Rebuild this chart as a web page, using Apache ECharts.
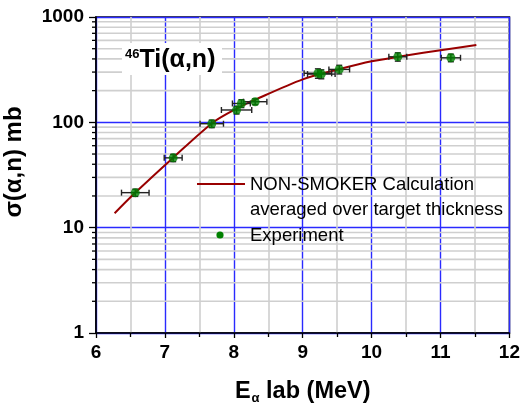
<!DOCTYPE html>
<html><head><meta charset="utf-8">
<script src="https://cdn.jsdelivr.net/npm/echarts@6/dist/echarts.min.js"></script>
<style>html,body{margin:0;padding:0;background:#fff;overflow:hidden}#c{width:523px;height:410px}</style>
</head><body><div id="c"></div>
<script>
// Experimental data
var expE      = [6.57, 7.12, 7.68, 8.04, 8.11, 8.31, 9.22, 9.27, 9.53, 10.38, 11.15];
var expSigma  = [21.5, 46, 97, 131, 151, 157, 292, 287, 318, 419, 410];
var expEErr   = [0.20, 0.13, 0.17, 0.22, 0.13, 0.17, 0.20, 0.20, 0.15, 0.13, 0.14];
var expSigErr = [1.7, 3.7, 8, 11, 13, 10, 30, 28, 30, 38, 34];
// NON-SMOKER calculation
var calcE     = [6.27, 6.56, 7.12, 7.69, 8.03, 8.32, 9.0, 9.5, 10.0, 10.5, 11.0, 11.52];
var calcSigma = [13.7, 21.2, 46.2, 98.7, 133.7, 165, 256, 316, 380, 431, 483, 543];
// axis ticks
var xTicks = [6, 7, 8, 9, 10, 11, 12];
var yTicks = [1, 10, 100, 1000];
var yMinor = [];
[1, 10, 100].forEach(function (d) { for (var k = 2; k <= 9; k++) yMinor.push(k * d); });

var chart = echarts.init(document.getElementById('c'));
var FONT = 'Liberation Sans, Arial, sans-serif';
var calcData = calcE.map(function (e, i) { return [e, calcSigma[i]]; });
var expData = expE.map(function (e, i) { return [e, expSigma[i]]; });
var errData = expE.map(function (e, i) { return [e, expSigma[i], expEErr[i], expSigErr[i]]; });

chart.setOption({
  animation: false,
  backgroundColor: '#fff',
  grid: { left: 96, top: 17, right: 12, bottom: 74, show: true, borderColor: '#000', borderWidth: 1.6, backgroundColor: 'transparent' },
  xAxis: {
    type: 'value', min: xTicks[0], max: xTicks[xTicks.length - 1], interval: 1,
    axisLine: { lineStyle: { color: '#000', width: 1.6 } },
    axisTick: { show: true, length: 5, lineStyle: { color: '#000', width: 1.3 } },
    minorTick: { show: true, splitNumber: 2, length: 4, lineStyle: { color: '#000', width: 1.3 } },
    splitLine: { show: true, lineStyle: { color: '#2a2aff', width: 1.4 } },
    minorSplitLine: { show: true, lineStyle: { color: '#cfcfcf', width: 1.6 } },
    axisLabel: { fontFamily: FONT, fontWeight: 'bold', fontSize: 19, color: '#000', margin: 10 },
    name: '{e|E}{s|α}{l| lab (MeV)}', nameLocation: 'middle', nameGap: 46,
    nameTextStyle: { rich: {
      e: { fontFamily: FONT, fontWeight: 'bold', fontSize: 23.5, color: '#000', lineHeight: 26 },
      s: { fontFamily: FONT, fontWeight: 'bold', fontSize: 13, color: '#000', verticalAlign: 'bottom', lineHeight: 14, padding: [12, 0, 0, 1] },
      l: { fontFamily: FONT, fontWeight: 'bold', fontSize: 23.5, color: '#000', lineHeight: 26 }
    } }
  },
  yAxis: {
    type: 'log', logBase: 10, min: yTicks[0], max: yTicks[yTicks.length - 1],
    axisLine: { lineStyle: { color: '#000', width: 1.6 } },
    axisTick: { show: true, length: 7, lineStyle: { color: '#000', width: 1.3 } },
    splitLine: { show: true, lineStyle: { color: '#2a2aff', width: 1.4 } },
    axisLabel: { fontFamily: FONT, fontWeight: 'bold', fontSize: 19, color: '#000', margin: 12,
      formatter: function (v) { return String(Math.round(v)); } }
  },
  graphic: [
    { type: 'text', x: 14, y: 162, rotation: Math.PI / 2, style: { text: 'σ(α,n) mb', fontFamily: FONT, fontWeight: 'bold', fontSize: 24, fill: '#000', align: 'center', verticalAlign: 'middle' } },
    { type: 'rect', shape: { x: 122, y: 43, width: 100, height: 32 }, style: { fill: '#fff' }, z: 50 },
    { type: 'text', x: 125, y: 60, z: 51, style: { text: '{s|46}{m|Ti(α,n)}', verticalAlign: 'middle', rich: {
      s: { fontFamily: FONT, fontWeight: 'bold', fontSize: 13, fill: '#000', verticalAlign: 'top', padding: [0, 0, 12, 0] },
      m: { fontFamily: FONT, fontWeight: 'bold', fontSize: 25, fill: '#000' } } } },
    { type: 'line', shape: { x1: 197, y1: 184, x2: 245, y2: 184 }, style: { stroke: '#990000', lineWidth: 2 }, z: 50 },
    { type: 'text', x: 250, y: 185, z: 50, style: { text: 'NON-SMOKER Calculation', fontFamily: FONT, fontSize: 18.5, fill: '#000', verticalAlign: 'middle' } },
    { type: 'text', x: 250, y: 210, z: 50, style: { text: 'averaged over target thickness', fontFamily: FONT, fontSize: 18.5, fill: '#000', verticalAlign: 'middle' } },
    { type: 'circle', shape: { cx: 220, cy: 235, r: 3.6 }, style: { fill: '#008000' }, z: 50 },
    { type: 'text', x: 250, y: 236, z: 50, style: { text: 'Experiment', fontFamily: FONT, fontSize: 18.5, fill: '#000', verticalAlign: 'middle' } }
  ],
  series: [
    {
      type: 'custom', name: 'minorY', z: 0, silent: true,
      data: yMinor.map(function (v) { return [xTicks[0], v]; }),
      renderItem: function (params, api) {
        var p = api.coord([api.value(0), api.value(1)]);
        var cs = params.coordSys;
        return { type: 'group', children: [
          { type: 'line', shape: { x1: cs.x + 1, y1: p[1], x2: cs.x + cs.width - 1, y2: p[1] }, style: { stroke: '#cfcfcf', lineWidth: 1.6 } },
          { type: 'line', shape: { x1: cs.x - 4, y1: p[1], x2: cs.x, y2: p[1] }, style: { stroke: '#000', lineWidth: 1.3 } }
        ] };
      }
    },
    {
      type: 'line', name: 'NON-SMOKER', data: calcData, smooth: 0.3, showSymbol: false,
      lineStyle: { color: '#990000', width: 2 }, z: 3
    },
    {
      type: 'custom', name: 'errors', z: 4,
      data: errData,
      renderItem: function (params, api) {
        var e = api.value(0), s = api.value(1), de = api.value(2), ds = api.value(3);
        var c = api.coord([e, s]);
        var l = api.coord([e - de, s]), r = api.coord([e + de, s]);
        var t = api.coord([e, s + ds]), b = api.coord([e, s - ds]);
        var st = { stroke: '#222', lineWidth: 1.4 };
        return { type: 'group', children: [
          { type: 'line', shape: { x1: l[0], y1: c[1], x2: r[0], y2: c[1] }, style: st },
          { type: 'line', shape: { x1: l[0], y1: c[1] - 3, x2: l[0], y2: c[1] + 3 }, style: st },
          { type: 'line', shape: { x1: r[0], y1: c[1] - 3, x2: r[0], y2: c[1] + 3 }, style: st },
          { type: 'line', shape: { x1: c[0], y1: t[1], x2: c[0], y2: b[1] }, style: st },
          { type: 'line', shape: { x1: c[0] - 3, y1: t[1], x2: c[0] + 3, y2: t[1] }, style: st },
          { type: 'line', shape: { x1: c[0] - 3, y1: b[1], x2: c[0] + 3, y2: b[1] }, style: st }
        ] };
      }
    },
    {
      type: 'scatter', name: 'Experiment', data: expData, symbol: 'circle', symbolSize: 9,
      itemStyle: { color: '#008000' }, z: 5
    }
  ]
});
</script></body></html>
